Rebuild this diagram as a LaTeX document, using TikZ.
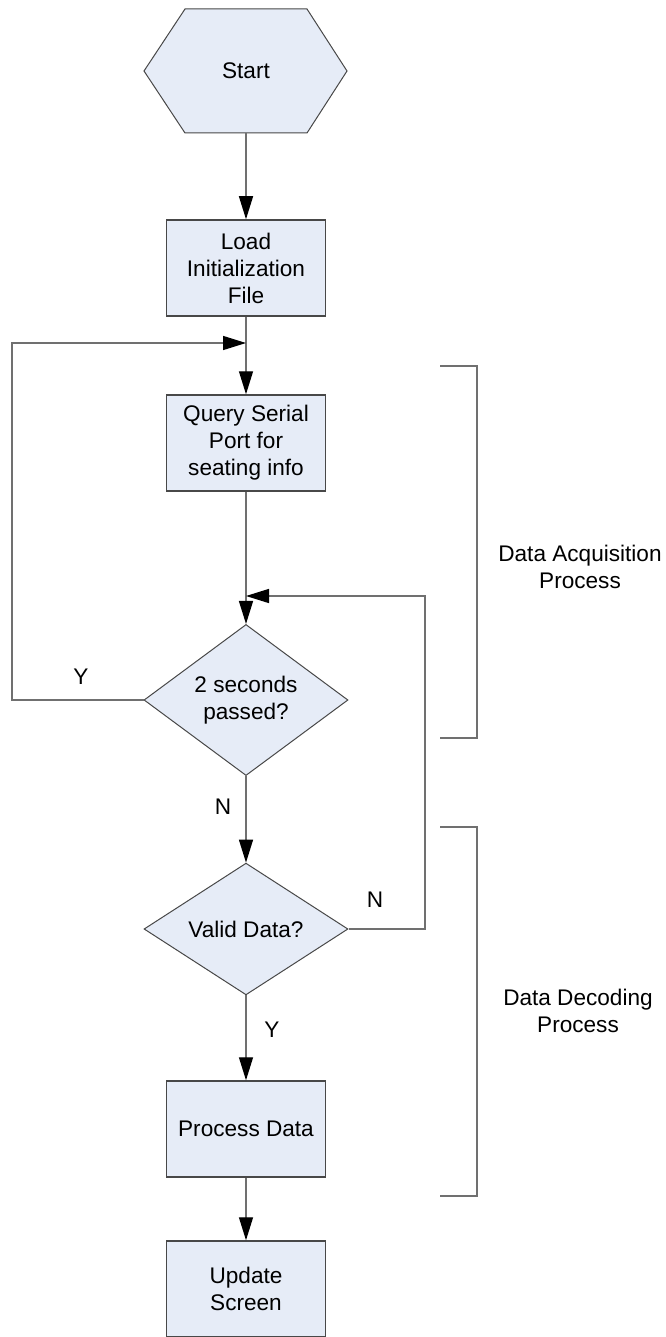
\documentclass[tikz,border=0pt]{standalone}
\usepackage{fontspec}
\setmainfont{Liberation Sans}
\usetikzlibrary{shapes.geometric,arrows.meta}
\definecolor{boxfill}{RGB}{230,236,247}
\definecolor{edgegray}{RGB}{112,112,112}
\definecolor{framegray}{RGB}{72,72,72}
\begin{document}
\begin{tikzpicture}[x=1pt,y=-1pt,
  font=\fontsize{22.6}{27}\selectfont,
  stepbox/.style={draw=framegray, line width=1.5pt, fill=boxfill,
    minimum width=159pt, minimum height=96pt, inner sep=0pt, align=center},
  decision/.style={diamond, draw=framegray, line width=1pt, fill=boxfill,
    minimum width=204pt, minimum height=124pt, inner sep=0pt, align=center},
  flow/.style={draw=edgegray, line width=1.4pt},
  arr/.style={flow, -{Triangle[length=23pt,width=14pt,color=black]}},
  brace/.style={draw=edgegray, line width=1.3pt},
  lbl/.style={inner sep=0pt, align=center}]
\useasboundingbox (0,0) rectangle (665,1337);

% terminal: hexagon outline with a plain node carrying the label
\fill[boxfill] (144,71) -- (185,9) -- (307,9) -- (347,71) -- (307,133) -- (185,133) -- cycle;
\draw[draw=framegray, line width=1pt] (144,71) -- (185,9) -- (307,9) -- (347,71) -- (307,133) -- (185,133) -- cycle;
\node[lbl, minimum width=203pt, minimum height=124pt] (start) at (246,71) {Start};

% process steps and decisions
\node[stepbox] (load)  at (246,268)  {Load\\Initialization\\File};
\node[stepbox] (query) at (246,443)  {Query Serial\\Port for\\seating info};
\node[decision] (d1)   at (246,700)  {2 seconds\\passed?};
\node[decision] (d2)   at (246,929)  {Valid Data?};
\node[stepbox] (proc)  at (246,1129) {Process Data};
\node[stepbox] (upd)   at (246,1289) {Update\\Screen};

% junctions and loop corners
\coordinate (j1) at (246,343);
\coordinate (j2) at (246,596);
\coordinate (lx) at (12,343);
\coordinate (rx) at (425,596);

% connectors
\draw[arr]  (start.south) -- (load.north);
\draw[flow] (load.south) -- (j1);
\draw[arr]  (j1) -- (query.north);
\draw[flow] (query.south) -- (j2);
\draw[arr]  (j2) -- (d1.north);
\draw[arr]  (d1.west) -| (lx) -- (j1);
\draw[arr]  (d1.south) -- (d2.north);
\draw[arr]  (d2.east) -| (rx) -- (j2);
\draw[arr]  (d2.south) -- (proc.north);
\draw[arr]  (proc.south) -- (upd.north);

% branch labels
\node[lbl] (y1) at (81,677)  {Y};
\node[lbl] (n1) at (223,807) {N};
\node[lbl] (n2) at (375,900) {N};
\node[lbl] (y2) at (272,1030) {Y};

% phase brackets
\draw[brace] (440,366) -- (477,366) -- (477,738) -- (440,738);
\draw[brace] (440,827) -- (477,827) -- (477,1196) -- (440,1196);
\node[lbl] (acq) at (580,567)  {Data Acquisition\\Process};
\node[lbl] (dec) at (578,1011) {Data Decoding\\Process};
\end{tikzpicture}
\end{document}
